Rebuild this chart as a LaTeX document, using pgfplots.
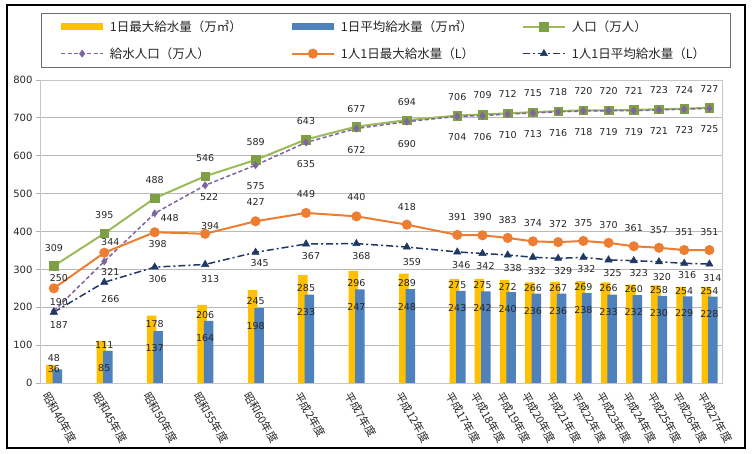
\documentclass[border=0pt]{standalone}
\usepackage{fontspec}
\setmainfont{DejaVu Sans}
\newfontfamily\jp{Noto Sans CJK JP}
\usepackage{pgfplots}
\usepackage{pgfplotstable}
\pgfplotsset{compat=1.18}
\definecolor{cyel}{HTML}{FFC000}
\definecolor{cblue}{HTML}{4F81BD}
\definecolor{cgreen}{HTML}{9BBB59}
\definecolor{cgreenm}{HTML}{7E9F45}
\definecolor{cpurp}{HTML}{8064A2}
\definecolor{corange}{HTML}{ED7D31}
\definecolor{cnavy}{HTML}{1F3864}
\definecolor{ctxt}{HTML}{262626}
\pgfplotsset{
  lineleg/.style={legend image code/.code={\draw[mark repeat=2,mark phase=2,##1] plot coordinates {(0pt,0pt) (21pt,0pt) (42pt,0pt)};}},
  yelleg/.style={legend image code/.code={\fill[cyel] (0pt,-3.5pt) rectangle (42pt,3.5pt);}},
  bluleg/.style={legend image code/.code={\fill[cblue] (0pt,-3.5pt) rectangle (42pt,3.5pt);}},
  lbl/.style={nodes near coords, every node near coord/.append style={anchor=center, yshift=\dy pt, xshift=\dx pt, text=ctxt, font=\fontsize{9.5}{11}\selectfont}},
}

\pgfplotstableread{
x  maxw avgw pop spop pmax pavg dymx dyav dypo dysp dxsp dypm dxpm dypa dxpa zero
0  48   36   309 190  250  187  7    0    18   9    5    10   5    -13  5    0
2  111  85   395 321  344  266  -4   -17  18   -11  6    11   6    -17  6    0
4  178  137  488 448  398  306  -8   -17  18   -5   15   -12  3    -12  3    0
6  206  164  546 522  394  313  -10  -17  18   -12  4    8    5    -15  5    0
8  245  198  589 575  427  345  -11  -18  18   -21  0    19   0    -11  4    0
10 285  233  643 635  449  367  -13  -17  18   -22  0    19   0    -12  5    0
12 296  247  677 672  440  368  -12  -18  18   -22  0    19   0    -12  5    0
14 289  248  694 690  418  359  -10  -18  18   -22  0    18   0    -15  5    0
16 275  243  706 704  391  346  -6   -17  19   -21  0    18   0    -13  4    0
17 275  242  709 706  390  342  -6   -17  19   -21  0    18   0    -13  3    0
18 272  240  712 710  383  338  -7   -17  19   -21  0    18   0    -13  5    0
19 266  236  715 713  374  332  -6   -17  19   -21  0    18   0    -14  4    0
20 267  236  718 716  372  329  -6   -17  19   -21  0    18   0    -13  5    0
21 269  238  720 718  375  332  -6   -17  19   -21  0    18   0    -12  3    0
22 266  233  720 719  370  325  -6   -17  19   -21  0    18   0    -13  4    0
23 260  232  721 719  361  323  -5   -17  19   -21  0    18   0    -12  5    0
24 258  230  723 721  357  320  -5   -17  19   -21  0    18   0    -15  3    0
25 254  229  724 723  351  316  -4   -17  19   -21  0    18   0    -12  3    0
26 254  228  727 725  351  314  -4   -17  19   -21  0    18   0    -14  3    0
}\data

\begin{document}
\begin{tikzpicture}[font=\fontsize{9.5}{11}\selectfont]
\useasboundingbox (-40pt,-71pt) rectangle (715pt,383pt);
\fill[white] (-40pt,-71pt) rectangle (715pt,383pt);
\begin{axis}[
  at={(0pt,0pt)}, anchor=south west,
  scale only axis, width=682pt, height=303pt,
  xmin=-0.55, xmax=26.5, ymin=0, ymax=800,
  clip=false,
  ytick={0,100,...,800},
  ymajorgrids, grid style={gray!55, line width=0.8pt},
  axis line style={gray!45, line width=0.8pt},
  xtick={0,2,4,6,8,10,12,14,16,17,18,19,20,21,22,23,24,25,26},
  xticklabels={昭和40年度,昭和45年度,昭和50年度,昭和55年度,昭和60年度,平成2年度,平成7年度,平成12年度,平成17年度,平成18年度,平成19年度,平成20年度,平成21年度,平成22年度,平成23年度,平成24年度,平成25年度,平成26年度,平成27年度},
  xticklabel style={font=\jp\fontsize{11}{12}\selectfont, text=ctxt, rotate=-60, anchor=west, inner sep=0pt, yshift=-10pt, xshift=1pt},
  yticklabel style={font=\fontsize{10}{12}\selectfont, text=ctxt},
  x tick style={draw=none},
  y tick style={gray!60, line width=0.8pt},
  xtick pos=bottom, ytick pos=left,
  tick align=outside, major tick length=4pt,
  /pgf/number format/assume math mode=true,
  legend columns=3,
  legend style={at={(axis description cs:0.0015,1.221)}, anchor=north west,
    draw=gray!85!black, line width=0.8pt, inner xsep=19pt, inner ysep=7.2pt,
    font=\jp\fontsize{12.5}{14}\selectfont, text=ctxt,
    nodes={inner sep=0pt},
    /tikz/every odd column/.append style={column sep=6pt},
    row sep=14.5pt},
  legend cell align=left,
]
\addplot[ybar, bar width=9.5pt, bar shift=-3pt, fill=cyel, draw=none, yelleg,
  visualization depends on={\thisrow{dymx} \as \dy}, visualization depends on={\thisrow{zero} \as \dx}, lbl]
  table[x=x, y=maxw]{\data};
\addlegendentry{\makebox[181pt][l]{\rule[-3pt]{0pt}{12pt}1日最大給水量（万㎥）}}
\addplot[ybar, bar width=9.5pt, bar shift=3.5pt, fill=cblue, draw=none, bluleg,
  visualization depends on={\thisrow{dyav} \as \dy}, visualization depends on={\thisrow{zero} \as \dx}, lbl]
  table[x=x, y=avgw]{\data};
\addlegendentry{\makebox[181pt][l]{\rule[-3pt]{0pt}{12pt}1日平均給水量（万㎥）}}
\addplot[cgreen, line width=2pt, mark=square*, mark size=4.3pt, mark options={fill=cgreenm, draw=cgreenm, solid, line width=0.5pt}, lineleg,
  visualization depends on={\thisrow{dypo} \as \dy}, visualization depends on={\thisrow{zero} \as \dx}, lbl]
  table[x=x, y=pop]{\data};
\addlegendentry{\makebox[139pt][l]{\rule[-3pt]{0pt}{12pt}人口（万人）}}
\addplot[cpurp, line width=1.5pt, dash pattern=on 4pt off 2.5pt, mark=diamond*, mark size=3.6pt, mark options={fill=cpurp, solid, line width=0.5pt}, lineleg,
  visualization depends on={\thisrow{dysp} \as \dy}, visualization depends on={\thisrow{dxsp} \as \dx}, lbl]
  table[x=x, y=spop]{\data};
\addlegendentry{\makebox[181pt][l]{\rule[-3pt]{0pt}{12pt}給水人口（万人）}}
\addplot[corange, line width=2pt, mark=*, mark size=4pt, mark options={fill=corange, solid}, lineleg,
  visualization depends on={\thisrow{dypm} \as \dy}, visualization depends on={\thisrow{dxpm} \as \dx}, lbl]
  table[x=x, y=pmax]{\data};
\addlegendentry{\makebox[181pt][l]{\rule[-3pt]{0pt}{12pt}1人1日最大給水量（L）}}
\addplot[cnavy, line width=1.5pt, dash pattern=on 7pt off 3pt on 2pt off 3pt, mark=triangle*, mark size=4.2pt, mark options={fill=cnavy, solid, line width=0.5pt}, lineleg,
  visualization depends on={\thisrow{dypa} \as \dy}, visualization depends on={\thisrow{dxpa} \as \dx}, lbl]
  table[x=x, y=pavg]{\data};
\addlegendentry{\makebox[139pt][l]{\rule[-3pt]{0pt}{12pt}1人1日平均給水量（L）}}
\end{axis}
\draw[black, line width=1.5pt] (-33pt,-65pt) rectangle (705pt,378pt);
\end{tikzpicture}
\end{document}
